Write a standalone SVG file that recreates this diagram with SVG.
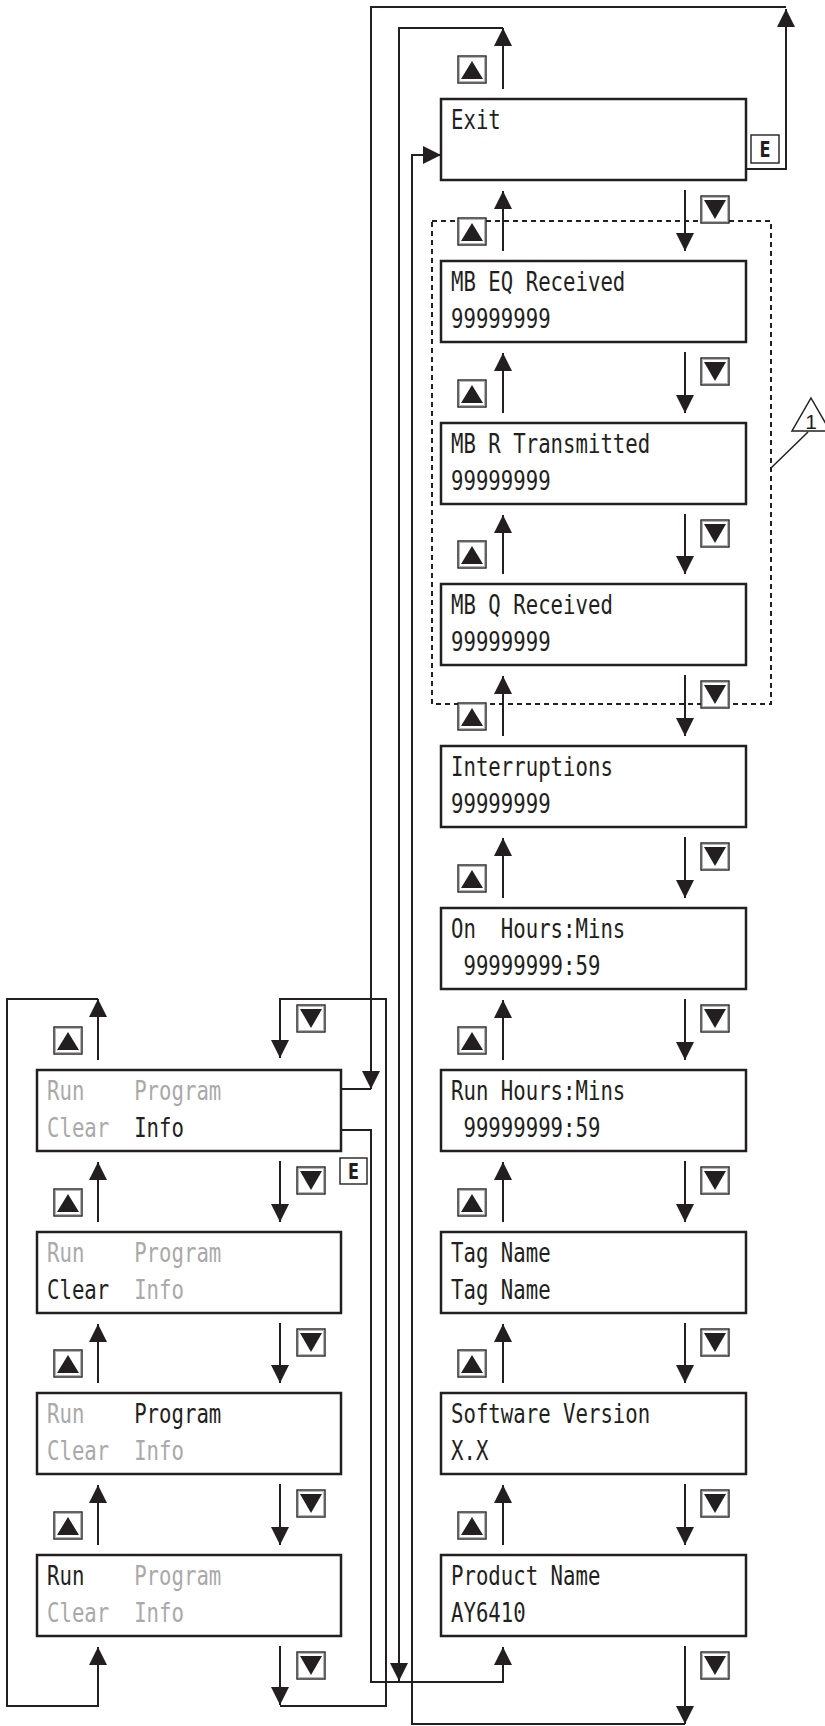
<svg xmlns="http://www.w3.org/2000/svg" xmlns:xlink="http://www.w3.org/1999/xlink" width="825" height="1726" viewBox="0 0 825 1726">
<style>
.box{fill:#fff;stroke:#231f20;stroke-width:2.5}
.ln{fill:none;stroke:#231f20;stroke-width:2}
.arr{fill:none;stroke:#231f20;stroke-width:2;marker-end:url(#ah)}
.t{font-family:"DejaVu Sans Mono","Liberation Mono",monospace;font-size:26px;fill:#231f20}
.g{fill:#a9a9a9}
.k{font-family:"DejaVu Sans","Liberation Sans",sans-serif;font-weight:bold;font-size:22px;fill:#231f20}
.dash{fill:none;stroke:#231f20;stroke-width:2;stroke-dasharray:5 4}
</style>
<defs>
<marker id="ah" viewBox="0 0 18 18" markerWidth="18" markerHeight="18" markerUnits="userSpaceOnUse" refX="18" refY="9" orient="auto">
<path d="M0,0 L18,9 L0,18 Z" fill="#231f20"/>
</marker>
<g id="bu">
<rect x="0" y="0" width="28" height="27" fill="#fff" stroke="#231f20" stroke-width="1.4"/>
<rect x="1.5" y="1.5" width="25" height="24" fill="none" stroke="#b5b5b5" stroke-width="1"/>
<polygon points="14,5 25,23 3,23" fill="#231f20"/>
</g>
<g id="bd">
<rect x="0" y="0" width="28" height="27" fill="#fff" stroke="#231f20" stroke-width="1.4"/>
<rect x="1.5" y="1.5" width="25" height="24" fill="none" stroke="#b5b5b5" stroke-width="1"/>
<polygon points="3,4 25,4 14,23" fill="#231f20"/>
</g>
</defs>

<g id="group-frame">
<rect class="dash" x="432" y="221" width="339" height="483"/>
<polygon points="811,398 830,431 792,431" fill="#fff" stroke="#231f20" stroke-width="1.5"/>
<text x="811" y="429" text-anchor="middle" style="font-family:'Liberation Sans',sans-serif;font-size:21px;fill:#231f20">1</text>
<line x1="771" y1="468" x2="808" y2="432" stroke="#231f20" stroke-width="1.5"/>
</g>

<g id="connectors">
<path class="arr" d="M503,89 V28"/>
<path class="arr" d="M503,251 V191"/><path class="arr" d="M685,190 V251"/>
<path class="arr" d="M503,413 V353"/><path class="arr" d="M685,352 V413"/>
<path class="arr" d="M503,574 V515"/><path class="arr" d="M685,514 V574"/>
<path class="arr" d="M503,736 V676"/><path class="arr" d="M685,675 V736"/>
<path class="arr" d="M503,898 V838"/><path class="arr" d="M685,837 V898"/>
<path class="arr" d="M503,1060 V1000"/><path class="arr" d="M685,999 V1060"/>
<path class="arr" d="M503,1222 V1162"/><path class="arr" d="M685,1161 V1222"/>
<path class="arr" d="M503,1383 V1324"/><path class="arr" d="M685,1323 V1383"/>
<path class="arr" d="M503,1545 V1485"/><path class="arr" d="M685,1484 V1545"/>
<path class="arr" d="M685,1646 V1724"/>
<path class="arr" d="M98,1060 V999"/>
<path class="arr" d="M98,1222 V1162"/><path class="arr" d="M280,1161 V1222"/>
<path class="arr" d="M98,1383 V1324"/><path class="arr" d="M280,1323 V1383"/>
<path class="arr" d="M98,1545 V1485"/><path class="arr" d="M280,1484 V1545"/>
<path class="arr" d="M280,1646 V1705"/>
<path class="arr" d="M98,999 H7 V1706 H98 V1647"/>
<path class="arr" d="M280,1706 H386 V999 H280 V1058"/>
<path class="arr" d="M746,169 H786 V9"/>
<path class="arr" d="M786,7 H371 V1089"/>
<path class="ln" d="M341,1089 H371"/>
<path class="arr" d="M503,28 H399 V1681"/>
<path class="arr" d="M341,1130 H371 V1682 H503 V1647"/>
<path class="arr" d="M685,1724 H412 V155 H441"/>
</g>

<g id="keys">
<use xlink:href="#bu" x="458" y="56"/>
<use xlink:href="#bu" x="458" y="218"/><use xlink:href="#bd" x="701" y="196"/>
<use xlink:href="#bu" x="458" y="380"/><use xlink:href="#bd" x="701" y="358"/>
<use xlink:href="#bu" x="458" y="541"/><use xlink:href="#bd" x="701" y="520"/>
<use xlink:href="#bu" x="458" y="703"/><use xlink:href="#bd" x="701" y="681"/>
<use xlink:href="#bu" x="458" y="865"/><use xlink:href="#bd" x="701" y="843"/>
<use xlink:href="#bu" x="458" y="1027"/><use xlink:href="#bd" x="701" y="1005"/>
<use xlink:href="#bu" x="458" y="1189"/><use xlink:href="#bd" x="701" y="1167"/>
<use xlink:href="#bu" x="458" y="1350"/><use xlink:href="#bd" x="701" y="1329"/>
<use xlink:href="#bu" x="458" y="1512"/><use xlink:href="#bd" x="701" y="1490"/>
<use xlink:href="#bd" x="701" y="1652"/>
<use xlink:href="#bu" x="54" y="1027"/><use xlink:href="#bd" x="297" y="1005"/>
<use xlink:href="#bu" x="54" y="1189"/><use xlink:href="#bd" x="297" y="1167"/>
<use xlink:href="#bu" x="54" y="1350"/><use xlink:href="#bd" x="297" y="1329"/>
<use xlink:href="#bu" x="54" y="1512"/><use xlink:href="#bd" x="297" y="1490"/>
<use xlink:href="#bd" x="297" y="1652"/>
<g id="key-e-exit">
<rect x="751" y="135" width="28" height="28" fill="#fff" stroke="#231f20" stroke-width="1.4"/>
<text class="k" x="765" y="157" text-anchor="middle" textLength="11" lengthAdjust="spacingAndGlyphs">E</text>
</g>
<g id="key-e-info">
<rect x="340" y="1158" width="27" height="26" fill="#fff" stroke="#231f20" stroke-width="1.4"/>
<text class="k" x="353.5" y="1179" text-anchor="middle" textLength="11" lengthAdjust="spacingAndGlyphs">E</text>
</g>
</g>

<g id="node-exit"><rect class="box" x="441" y="99" width="305" height="81"/>
<text class="t" x="451" y="129" textLength="49.8" lengthAdjust="spacingAndGlyphs">Exit</text></g>
<g id="node-mb-eq"><rect class="box" x="441" y="261" width="305" height="81"/>
<text class="t" x="451" y="291" textLength="174.3" lengthAdjust="spacingAndGlyphs">MB EQ Received</text>
<text class="t" x="451" y="328" textLength="99.6" lengthAdjust="spacingAndGlyphs">99999999</text></g>
<g id="node-mb-r"><rect class="box" x="441" y="423" width="305" height="81"/>
<text class="t" x="451" y="453" textLength="199.2" lengthAdjust="spacingAndGlyphs">MB R Transmitted</text>
<text class="t" x="451" y="490" textLength="99.6" lengthAdjust="spacingAndGlyphs">99999999</text></g>
<g id="node-mb-q"><rect class="box" x="441" y="584" width="305" height="81"/>
<text class="t" x="451" y="614" textLength="161.85" lengthAdjust="spacingAndGlyphs">MB Q Received</text>
<text class="t" x="451" y="651" textLength="99.6" lengthAdjust="spacingAndGlyphs">99999999</text></g>
<g id="node-interruptions"><rect class="box" x="441" y="746" width="305" height="81"/>
<text class="t" x="451" y="776" textLength="161.85" lengthAdjust="spacingAndGlyphs">Interruptions</text>
<text class="t" x="451" y="813" textLength="99.6" lengthAdjust="spacingAndGlyphs">99999999</text></g>
<g id="node-on-hours"><rect class="box" x="441" y="908" width="305" height="81"/>
<text class="t" x="451" y="938" xml:space="preserve" textLength="174.3" lengthAdjust="spacingAndGlyphs">On  Hours:Mins</text>
<text class="t" x="463.45" y="975" textLength="136.95" lengthAdjust="spacingAndGlyphs">99999999:59</text></g>
<g id="node-run-hours"><rect class="box" x="441" y="1070" width="305" height="81"/>
<text class="t" x="451" y="1100" textLength="174.3" lengthAdjust="spacingAndGlyphs">Run Hours:Mins</text>
<text class="t" x="463.45" y="1137" textLength="136.95" lengthAdjust="spacingAndGlyphs">99999999:59</text></g>
<g id="node-tag"><rect class="box" x="441" y="1232" width="305" height="81"/>
<text class="t" x="451" y="1262" textLength="99.6" lengthAdjust="spacingAndGlyphs">Tag Name</text>
<text class="t" x="451" y="1299" textLength="99.6" lengthAdjust="spacingAndGlyphs">Tag Name</text></g>
<g id="node-software"><rect class="box" x="441" y="1393" width="305" height="81"/>
<text class="t" x="451" y="1423" textLength="199.2" lengthAdjust="spacingAndGlyphs">Software Version</text>
<text class="t" x="451" y="1460" textLength="37.35" lengthAdjust="spacingAndGlyphs">X.X</text></g>
<g id="node-product"><rect class="box" x="441" y="1555" width="305" height="81"/>
<text class="t" x="451" y="1585" textLength="149.4" lengthAdjust="spacingAndGlyphs">Product Name</text>
<text class="t" x="451" y="1622" textLength="74.7" lengthAdjust="spacingAndGlyphs">AY6410</text></g>

<g id="node-menu-info"><rect class="box" x="37" y="1070" width="304" height="81"/>
<text class="t g" x="47" y="1100" textLength="37.35" lengthAdjust="spacingAndGlyphs">Run</text>
<text class="t g" x="134.15" y="1100" textLength="87.15" lengthAdjust="spacingAndGlyphs">Program</text>
<text class="t g" x="47" y="1137" textLength="62.25" lengthAdjust="spacingAndGlyphs">Clear</text>
<text class="t" x="134.15" y="1137" textLength="49.8" lengthAdjust="spacingAndGlyphs">Info</text></g>
<g id="node-menu-clear"><rect class="box" x="37" y="1232" width="304" height="81"/>
<text class="t g" x="47" y="1262" textLength="37.35" lengthAdjust="spacingAndGlyphs">Run</text>
<text class="t g" x="134.15" y="1262" textLength="87.15" lengthAdjust="spacingAndGlyphs">Program</text>
<text class="t" x="47" y="1299" textLength="62.25" lengthAdjust="spacingAndGlyphs">Clear</text>
<text class="t g" x="134.15" y="1299" textLength="49.8" lengthAdjust="spacingAndGlyphs">Info</text></g>
<g id="node-menu-program"><rect class="box" x="37" y="1393" width="304" height="81"/>
<text class="t g" x="47" y="1423" textLength="37.35" lengthAdjust="spacingAndGlyphs">Run</text>
<text class="t" x="134.15" y="1423" textLength="87.15" lengthAdjust="spacingAndGlyphs">Program</text>
<text class="t g" x="47" y="1460" textLength="62.25" lengthAdjust="spacingAndGlyphs">Clear</text>
<text class="t g" x="134.15" y="1460" textLength="49.8" lengthAdjust="spacingAndGlyphs">Info</text></g>
<g id="node-menu-run"><rect class="box" x="37" y="1555" width="304" height="81"/>
<text class="t" x="47" y="1585" textLength="37.35" lengthAdjust="spacingAndGlyphs">Run</text>
<text class="t g" x="134.15" y="1585" textLength="87.15" lengthAdjust="spacingAndGlyphs">Program</text>
<text class="t g" x="47" y="1622" textLength="62.25" lengthAdjust="spacingAndGlyphs">Clear</text>
<text class="t g" x="134.15" y="1622" textLength="49.8" lengthAdjust="spacingAndGlyphs">Info</text></g>
</svg>
